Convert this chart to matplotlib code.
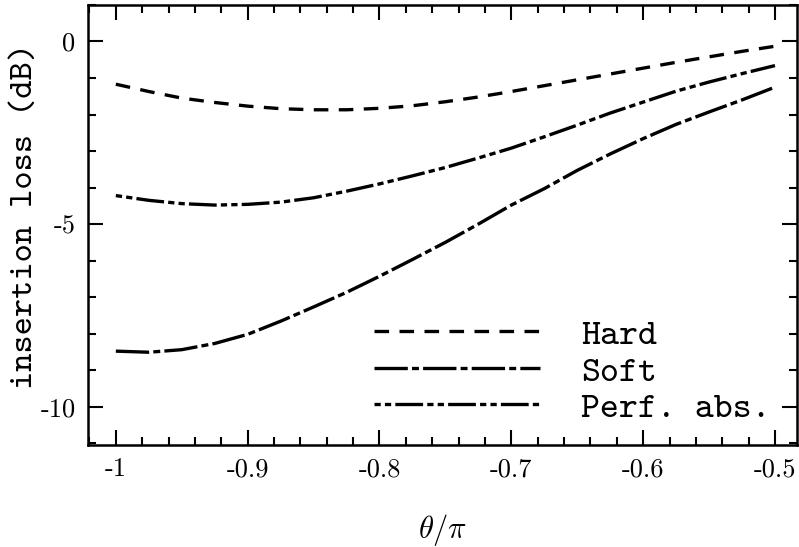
import matplotlib
matplotlib.use("Agg")
import matplotlib.pyplot as plt
from matplotlib.ticker import MultipleLocator

# theta / pi
theta = [-1.000, -0.975, -0.950, -0.925, -0.900, -0.875, -0.850, -0.825, -0.800, -0.775, -0.750,
         -0.725, -0.700, -0.675, -0.650, -0.625, -0.600, -0.575, -0.550, -0.525, -0.500]

# insertion loss (dB)
hard = [-1.17, -1.37, -1.55, -1.67, -1.77, -1.84, -1.87, -1.87, -1.83, -1.76, -1.65,
        -1.52, -1.37, -1.21, -1.05, -0.89, -0.73, -0.57, -0.42, -0.27, -0.13]
soft = [-8.48, -8.51, -8.44, -8.27, -8.02, -7.66, -7.27, -6.87, -6.43, -5.97, -5.50,
        -5.00, -4.48, -4.03, -3.53, -3.08, -2.66, -2.27, -1.93, -1.60, -1.25]
perf_abs = [-4.22, -4.35, -4.44, -4.48, -4.46, -4.40, -4.28, -4.10, -3.90, -3.68, -3.45,
            -3.19, -2.92, -2.61, -2.29, -1.96, -1.66, -1.36, -1.11, -0.88, -0.66]

labels = ["Hard", "Soft", "Perf. abs."]

xticks = [-1.0, -0.9, -0.8, -0.7, -0.6, -0.5]
xtick_labels = ["-1", "-0.9", "-0.8", "-0.7", "-0.6", "-0.5"]
yticks = [0, -5, -10]
ytick_labels = ["0", "-5", "-10"]

plt.rcParams['lines.scale_dashes'] = False
plt.rcParams['mathtext.fontset'] = 'cm'
plt.rcParams['axes.unicode_minus'] = False

fig = plt.figure(figsize=(7.99, 5.47), dpi=100)
ax = fig.add_axes([0.110, 0.1865, 0.8875, 0.8044])

lw = 2.4
ax.plot(theta, hard, color='black', lw=lw, dashes=(10.5, 7.5), label=labels[0])
ax.plot(theta, soft, color='black', lw=lw, dashes=(24, 3, 5, 3), label=labels[1])
ax.plot(theta, perf_abs, color='black', lw=lw, dashes=(4.5, 3, 4.5, 3, 20, 3), label=labels[2])

ax.set_xlim(-1.0212, -0.4833)
ax.set_ylim(-11.05, 1.0)

ax.set_xticks(xticks)
ax.set_xticklabels(xtick_labels)
ax.set_yticks(yticks)
ax.set_yticklabels(ytick_labels)
ax.xaxis.set_minor_locator(MultipleLocator(0.02))
ax.yaxis.set_minor_locator(MultipleLocator(1))

ax.tick_params(which='both', direction='in', top=True, right=True, width=1.5)
ax.tick_params(which='major', length=11, pad=9, labelsize=19)
ax.tick_params(which='minor', length=5.5)
for lab in ax.get_xticklabels() + ax.get_yticklabels():
    lab.set_family('cmr10')

for sp in ax.spines.values():
    sp.set_linewidth(1.8)

ax.set_ylabel("insertion loss (dB)", family='cmtt10', fontsize=25)
ax.yaxis.set_label_coords(-0.068, 0.52)
ax.set_xlabel(r"$\theta/\pi$", fontsize=22, labelpad=22)

ax.legend(loc='upper left', bbox_to_anchor=(0.404, 0.287), frameon=False,
          prop={'family': 'cmtt10', 'size': 26}, handlelength=4.6,
          handletextpad=1.12, labelspacing=0.09, borderpad=0, borderaxespad=0)

fig.savefig("out.png", dpi=100)
